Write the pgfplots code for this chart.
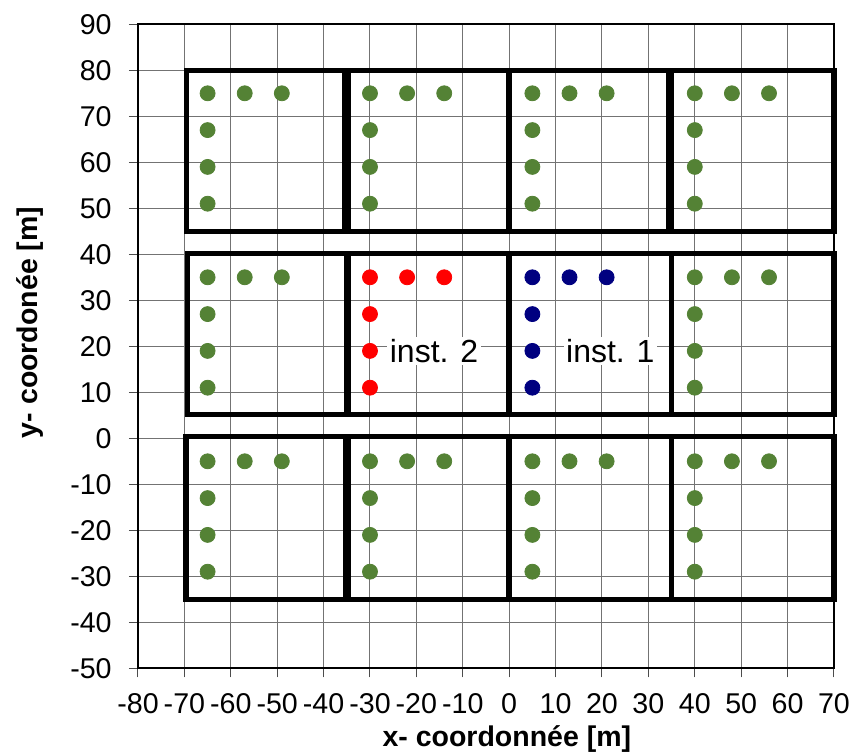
\documentclass[border=0pt]{standalone}
\usepackage{fontspec}
\setmainfont{Liberation Sans}
\usepackage{pgfplots}
\pgfplotsset{compat=1.18}
\definecolor{dotgreen}{RGB}{84,130,53}
\definecolor{dotblue}{RGB}{0,0,128}
\definecolor{dotred}{RGB}{255,0,0}
\begin{document}
\begin{tikzpicture}
\path[use as bounding box] (-69pt,-42.5pt) rectangle (357.5pt,334.15pt);
\begin{axis}[
  at={(0,0)}, anchor=south west,
  scale only axis, width=348pt, height=322pt,
  xmin=-80, xmax=70, ymin=-50, ymax=90,
  xtick distance=10, ytick distance=10,
  grid=major, major grid style={black!55, line width=0.5pt},
  axis line style={line width=1pt},
  tick align=outside, major tick length=4.5pt,
  tick style={black!70, line width=0.5pt},
  xtick pos=lower, ytick pos=left,
  /pgf/number format/assume math mode=true,
  ticklabel style={font=\fontsize{14.3}{16}\selectfont, inner sep=0pt},
  xticklabel style={anchor=north, yshift=-8pt},
  yticklabel style={anchor=east, xshift=-8.5pt},
  every axis x label/.style={at={(axis description cs:0.53,0)}, anchor=base, yshift=-39pt, font=\fontsize{14.25}{16}\selectfont\bfseries},
  every axis y label/.style={at={(axis description cs:0,0.537)}, anchor=base, xshift=-50pt, rotate=90, font=\fontsize{14.25}{16}\selectfont\bfseries},
  xlabel={x- coordonnée [m]},
  ylabel={y- coordonée [m]},
  clip=false,
]
% buildings
\pgfplotsset{bld/.style={black, line width=2.75pt, mark=none, line join=miter, line cap=rect}}
\addplot[bld] coordinates {(-69.6,45) (-35.5,45) (-35.5,80) (-69.6,80) (-69.6,45)};
\addplot[bld] coordinates {(-34.6,45) (-0.2,45) (-0.2,80) (-34.6,80) (-34.6,45)};
\addplot[bld] coordinates {(0,45) (34.4,45) (34.4,80) (0,80) (0,45)};
\addplot[bld] coordinates {(35,45) (70,45) (70,80) (35,80) (35,45)};
\addplot[bld] coordinates {(-69.3,5.2) (-35,5.2) (-35,40.2) (-69.3,40.2) (-69.3,5.2)};
\addplot[bld] coordinates {(-34.7,5.2) (-0.2,5.2) (-0.2,40.2) (-34.7,40.2) (-34.7,5.2)};
\addplot[bld] coordinates {(0,5.2) (35,5.2) (35,40.2) (0,40.2) (0,5.2)};
\addplot[bld] coordinates {(35,5.2) (70,5.2) (70,40.2) (35,40.2) (35,5.2)};
\addplot[bld] coordinates {(-69.7,-35) (-35.3,-35) (-35.3,0.4) (-69.7,0.4) (-69.7,-35)};
\addplot[bld] coordinates {(-34.7,-35) (0,-35) (0,0.4) (-34.7,0.4) (-34.7,-35)};
\addplot[bld] coordinates {(0,-35) (35,-35) (35,0.4) (0,0.4) (0,-35)};
\addplot[bld] coordinates {(35,-35) (70,-35) (70,0.4) (35,0.4) (35,-35)};
% measurement points
\addplot[only marks, mark=*, mark size=3.75pt, color=dotgreen] coordinates {
(-65,75) (-57,75) (-49,75) (-65,67) (-65,59) (-65,51)
(-30,75) (-22,75) (-14,75) (-30,67) (-30,59) (-30,51)
(5,75) (13,75) (21,75) (5,67) (5,59) (5,51)
(40,75) (48,75) (56,75) (40,67) (40,59) (40,51)
(-65,35) (-57,35) (-49,35) (-65,27) (-65,19) (-65,11)
(40,35) (48,35) (56,35) (40,27) (40,19) (40,11)
(-65,-5) (-57,-5) (-49,-5) (-65,-13) (-65,-21) (-65,-29)
(-30,-5) (-22,-5) (-14,-5) (-30,-13) (-30,-21) (-30,-29)
(5,-5) (13,-5) (21,-5) (5,-13) (5,-21) (5,-29)
(40,-5) (48,-5) (56,-5) (40,-13) (40,-21) (40,-29)
};
\addplot[only marks, mark=*, mark size=3.75pt, color=dotred] coordinates {
(-30,35) (-22,35) (-14,35) (-30,27) (-30,19) (-30,11)
};
\addplot[only marks, mark=*, mark size=3.75pt, color=dotblue] coordinates {
(5,35) (13,35) (21,35) (5,27) (5,19) (5,11)
};
\node[fill=white, inner sep=1.2pt, font=\fontsize{16}{18}\selectfont] at (axis cs:-16.2,19) {inst. 2};
\node[fill=white, inner sep=1.2pt, font=\fontsize{16}{18}\selectfont] at (axis cs:21.8,19) {inst. 1};
\end{axis}
\end{tikzpicture}
\end{document}
